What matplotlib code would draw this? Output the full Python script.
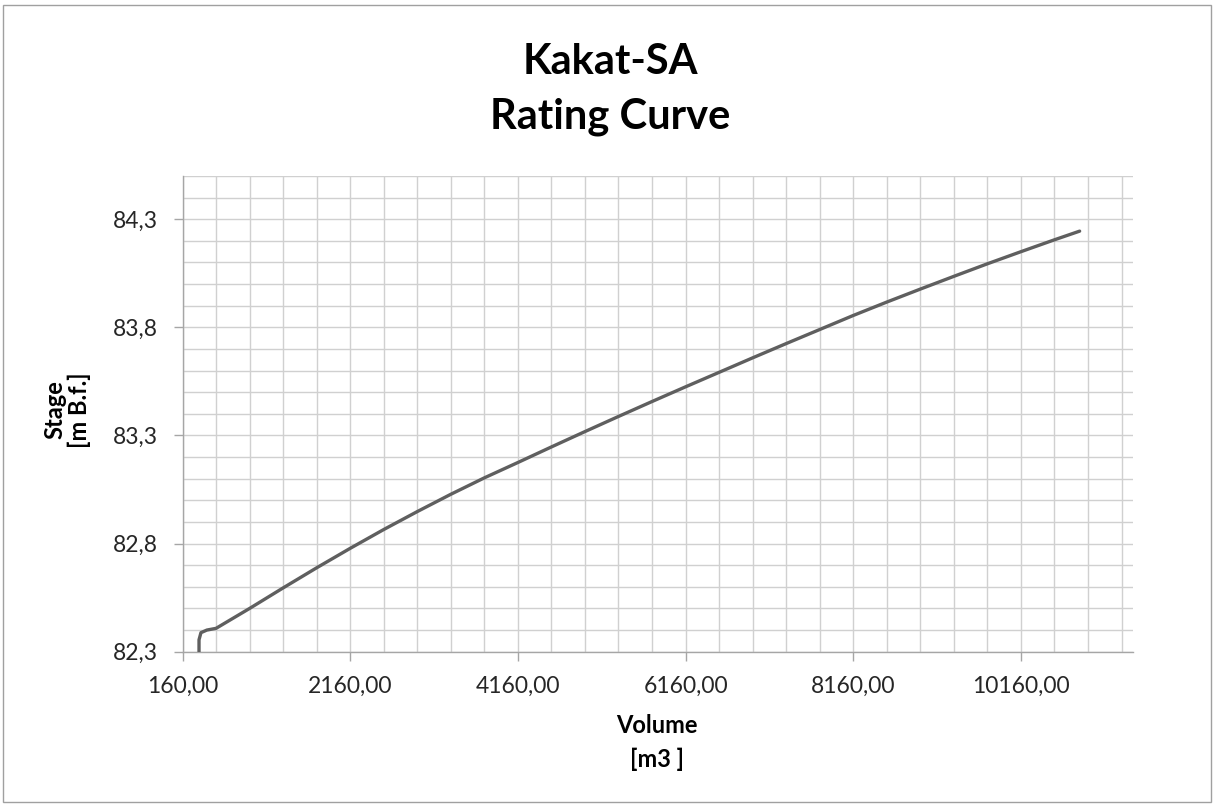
import numpy as np
import matplotlib.pyplot as plt
from matplotlib.ticker import FixedLocator, FuncFormatter
from matplotlib.patches import Rectangle

# values
volume = [357, 357, 380, 450, 560, 960, 1360, 1760, 2160, 2560, 2960, 3360,
          3760, 4160, 4560, 4960, 5360, 5760, 6160, 6560, 6960, 7360, 7760,
          8160, 8560, 8960, 9360, 9760, 10160, 10560, 10860]
stage = [82.300, 82.355, 82.388, 82.400, 82.408, 82.500, 82.595, 82.688,
         82.778, 82.865, 82.948, 83.028, 83.104, 83.175, 83.247, 83.318,
         83.388, 83.457, 83.525, 83.592, 83.659, 83.725, 83.790, 83.855,
         83.917, 83.977, 84.036, 84.094, 84.150, 84.205, 84.245]

x_major = [160, 2160, 4160, 6160, 8160, 10160]
y_major = [82.3, 82.8, 83.3, 83.8, 84.3]

W, H = 1214, 805
plt.rcParams['font.family'] = ['Lato', 'DejaVu Sans']

fig = plt.figure(figsize=(W / 100, H / 100), dpi=100)
ax = fig.add_axes([182.5 / W, 1 - 651.7 / H, (1133.3 - 182.5) / W, (651.7 - 176) / H])

grid_c = '#d0d0d0'
ax.plot(volume, stage, color='#5f5f5f', lw=2.4, solid_capstyle='round',
        solid_joinstyle='round', zorder=3)

ax.set_xlim(160, 11500)
ax.set_ylim(82.3, 84.5)

ax.xaxis.set_major_locator(FixedLocator(x_major))
ax.xaxis.set_minor_locator(FixedLocator(np.arange(160, 11500, 400)))
ax.yaxis.set_major_locator(FixedLocator(y_major))
ax.yaxis.set_minor_locator(FixedLocator(np.round(np.arange(82.3, 84.51, 0.1), 1)))

ax.xaxis.set_major_formatter(FuncFormatter(lambda v, p: f"{v:.2f}".replace('.', ',')))
ax.yaxis.set_major_formatter(FuncFormatter(lambda v, p: f"{v:.1f}".replace('.', ',')))

ax.grid(which='both', color=grid_c, lw=1.0, zorder=0)
ax.set_axisbelow(True)

for s in ['top', 'right']:
    ax.spines[s].set_visible(False)
for s in ['left', 'bottom']:
    ax.spines[s].set_color('#a6a6a6')
    ax.spines[s].set_linewidth(1.0)

ax.tick_params(which='major', direction='out', length=6.5, width=1.0, color='#a6a6a6',
               labelsize=16.5, labelcolor='#262626')
ax.tick_params(which='minor', length=0)
ax.tick_params(axis='x', pad=11)
ax.tick_params(axis='y', pad=11)

# title and axis titles
fig.text(610 / W, 1 - 62 / H, 'Kakat-SA', ha='center', va='center',
         fontsize=30, fontweight='bold', color='black')
fig.text(610 / W, 1 - 117 / H, 'Rating Curve', ha='center', va='center',
         fontsize=30, fontweight='bold', color='black')

fig.text(657 / W, 1 - 725 / H, 'Volume', ha='center', va='center',
         fontsize=17, fontweight='bold', color='black')
fig.text(657 / W, 1 - 759 / H, '[m3 ]', ha='center', va='center',
         fontsize=17, fontweight='bold', color='black')

fig.text(55 / W, 1 - 410 / H, 'Stage', ha='center', va='center', rotation=90,
         fontsize=17, fontweight='bold', color='black')
fig.text(79 / W, 1 - 410 / H, '[m B.f.]', ha='center', va='center', rotation=90,
         fontsize=17, fontweight='bold', color='black')

# chart area border
fig.patches.append(Rectangle((3 / W, 3 / H), (W - 6) / W, (H - 8) / H,
                             transform=fig.transFigure, fill=False,
                             edgecolor='#a0a0a0', lw=1.0))

fig.savefig('out.png', dpi=100)
